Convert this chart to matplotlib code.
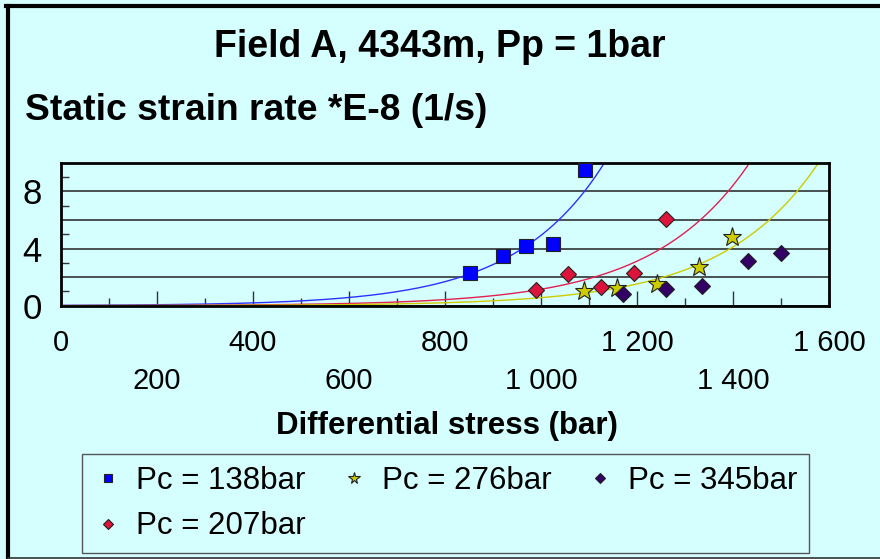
import numpy as np
import matplotlib
matplotlib.use("Agg")
import matplotlib.pyplot as plt
from matplotlib.lines import Line2D

plt.rcParams['font.family'] = ['Liberation Sans', 'DejaVu Sans']

# data
stress_138 = [853, 921, 969, 1024, 1092]
rate_138 = [2.29, 3.45, 4.15, 4.34, 9.49]
stress_207 = [989, 1057, 1126, 1194, 1261]
rate_207 = [1.12, 2.22, 1.33, 2.29, 6.03]
stress_276 = [1090, 1158, 1241, 1330, 1397]
rate_276 = [1.00, 1.22, 1.52, 2.68, 4.78]
stress_345 = [1171, 1261, 1336, 1432, 1499]
rate_345 = [0.80, 1.15, 1.40, 3.10, 3.71]

x_ticks = [0, 200, 400, 600, 800, 1000, 1200, 1400, 1600]
y_ticks = [0, 2, 4, 6, 8]
y_labels = ['0', '', '4', '', '8']

bg = '#D5FFFF'

fig = plt.figure(figsize=(8.8, 5.59), dpi=100)
fig.patch.set_facecolor(bg)
ax = fig.add_axes([61/880, 1-305.7/559, 768/880, 143/559])
ax.set_facecolor(bg)

#%% exponential trendlines (fit on log of rate, like excel)
xs = np.linspace(0, 1600, 600)
for sx, sy, col in [(stress_138, rate_138, '#3030FF'),
                    (stress_207, rate_207, '#E02050'),
                    (stress_276, rate_276, '#CCCC00')]:
    b, ln_a = np.polyfit(sx, np.log(sy), 1)
    ax.plot(xs, np.exp(ln_a + b*xs), color=col, lw=1, zorder=2)

#%% points
mk = dict(linestyle='none', markeredgecolor='#222222', markeredgewidth=0.8, zorder=3)
ax.plot(stress_138, rate_138, 's', color='#0000FF', markersize=9.5, label='Pc = 138bar', **mk)
ax.plot(stress_207, rate_207, 'D', color='#DC143C', markersize=8, label='Pc = 207bar', **mk)
ax.plot(stress_276, rate_276, '*', color='#CCCC00', markersize=14, label='Pc = 276bar', **mk)
ax.plot(stress_345, rate_345, 'D', color='#330066', markersize=8, label='Pc = 345bar', **mk)

ax.set_xlim(0, 1600)
ax.set_ylim(0, 10)

labels = []
for i, v in enumerate(x_ticks):
    s = "{:,}".format(v).replace(",", " ")
    labels.append(s if i % 2 == 0 else "\n" + s)
ax.set_xticks(x_ticks)
ax.set_xticklabels(labels, fontsize=21, linespacing=1.45)
ax.set_xticks(np.arange(100, 1600, 200), minor=True)
ax.tick_params(axis='x', which='major', direction='in', length=11, width=1, color='#333333', pad=17)
ax.tick_params(axis='x', which='minor', direction='in', length=6, width=1, color='#333333')

ax.set_yticks(y_ticks)
ax.set_yticklabels(y_labels, fontsize=25)
ax.set_yticks([1, 3, 5, 7, 9], minor=True)
ax.tick_params(axis='y', which='major', length=0, pad=14)
ax.tick_params(axis='y', which='minor', direction='in', length=6, width=1, color='#333333')
ax.grid(axis='y', which='major', color='#222222', lw=1.1)
ax.set_axisbelow(True)
for sp in ax.spines.values():
    sp.set_color('black')
    sp.set_linewidth(2)

#%% texts
fig.text(0.5, 1-47/559, 'Field A, 4343m, Pp = 1bar', ha='center', va='center',
         fontsize=27, fontweight='bold')
fig.text(25/880, 1-110/559, 'Static strain rate *E-8 (1/s)', ha='left', va='center',
         fontsize=26.8, fontweight='bold')
fig.text(447/880, 1-426/559, 'Differential stress (bar)', ha='center', va='center',
         fontsize=22.5, fontweight='bold')

leg = fig.legend(loc='upper left', bbox_to_anchor=(82/880, 1-548/559, 727/880, 94/559),
                 mode='expand', ncol=3, fontsize=22.5, markerscale=0.6, frameon=True,
                 fancybox=False, edgecolor='#555555', facecolor=bg, framealpha=1,
                 borderaxespad=0, handlelength=0.9, handletextpad=0.45,
                 labelspacing=0.5, borderpad=0.38)
leg.get_frame().set_linewidth(1)

#%% frame around the chart
fig.add_artist(Line2D([6/880, 1], [1-6/559, 1-6/559], color='black', lw=3, transform=fig.transFigure))
fig.add_artist(Line2D([8/880, 8/880], [0, 1-6/559], color='black', lw=3, transform=fig.transFigure))
fig.add_artist(Line2D([8/880, 1], [1/559, 1/559], color='#333333', lw=1.2, transform=fig.transFigure))

fig.savefig('out.png', dpi=100, facecolor=bg)
